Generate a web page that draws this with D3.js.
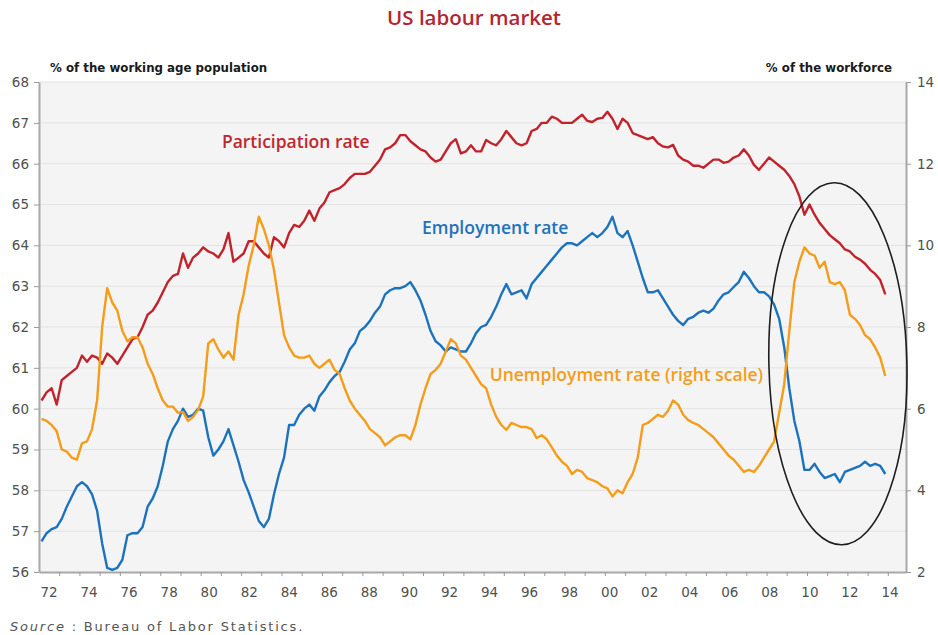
<!DOCTYPE html>
<html lang="en">
<head>
<meta charset="UTF-8">
<title>US labour market</title>
<style>
  body{ margin:0; background:#ffffff; }
  #canvas{ width:938px; height:635px; }
  .tick-label{ font-family:"DejaVu Sans", sans-serif; font-size:13.5px; fill:#505050; }
  .axis line{ stroke:#9a9a9a; }
  .axis path{ stroke:#a8a8a8; stroke-width:2; }
  .grid line{ stroke:#e3e3e3; stroke-width:1; }
  .series{ fill:none; stroke-width:2.4; stroke-linejoin:round; }
  .lbl{ font-family:"Open Sans", sans-serif; font-weight:600; font-size:17.5px; }
  .cap{ font-family:"DejaVu Sans", sans-serif; font-weight:700; font-size:11.8px; fill:#1a1a1a; }
</style>
<script src="https://cdn.jsdelivr.net/npm/d3@7/dist/d3.min.js"></script>
</head>
<body>
<div id="canvas"></div>
<script>
// quarterly readings, 1972 Q1 .. 2013 Q4 (one row per year)
var startYear = 1972;

var partRate = [
  60.2, 60.4, 60.5, 60.1,   60.7, 60.8, 60.9, 61.0,   61.3, 61.15, 61.3, 61.25,
  61.1, 61.35, 61.25, 61.1,  61.3, 61.5, 61.7, 61.75,  62.0, 62.3, 62.4, 62.6,
  62.85, 63.1, 63.25, 63.3,  63.8, 63.45, 63.7, 63.8,  63.95, 63.85, 63.8, 63.7,
  63.9, 64.3, 63.6, 63.7,    63.8, 64.1, 64.1, 63.95,  63.8, 63.7, 64.2, 64.1,
  63.95, 64.3, 64.5, 64.45,  64.6, 64.85, 64.6, 64.9,  65.05, 65.3, 65.35, 65.4,
  65.5, 65.65, 65.75, 65.75, 65.75, 65.8, 65.95, 66.1, 66.35, 66.4, 66.5, 66.7,
  66.7, 66.55, 66.45, 66.35, 66.3, 66.15, 66.05, 66.1, 66.3, 66.5, 66.6, 66.25,
  66.3, 66.45, 66.3, 66.3,  66.58, 66.5, 66.45, 66.6,  66.8, 66.65, 66.5, 66.45,
  66.5, 66.8, 66.85, 67.0,  67.0, 67.15, 67.1, 67.0,   67.0, 67.0, 67.1, 67.2,
  67.05, 67.02, 67.1, 67.12, 67.27, 67.1, 66.85, 67.1, 67.0, 66.75, 66.7, 66.65,
  66.6, 66.65, 66.5, 66.42,  66.4, 66.46, 66.2, 66.1,  66.05, 65.95, 65.95, 65.9,
  66.0, 66.1, 66.1, 66.02,   66.05, 66.15, 66.2, 66.35, 66.2, 65.97, 65.85, 66.0,
  66.15, 66.05, 65.95, 65.85, 65.7, 65.5, 65.2, 64.75, 65.0, 64.75, 64.55, 64.4,
  64.25, 64.15, 64.05, 63.9, 63.85, 63.72, 63.65, 63.55, 63.4, 63.3, 63.15, 62.8
];

var emplRate = [
  56.75, 56.95, 57.05, 57.1, 57.3, 57.6, 57.85, 58.1,  58.2, 58.1, 57.9, 57.5,
  56.7, 56.1, 56.05, 56.1,   56.3, 56.9, 56.95, 56.95, 57.1, 57.6, 57.8, 58.1,
  58.6, 59.2, 59.5, 59.7,    60.0, 59.8, 59.85, 60.0,  59.95, 59.3, 58.85, 59.0,
  59.2, 59.5, 59.1, 58.7,    58.25, 57.95, 57.6, 57.25, 57.1, 57.3, 57.9, 58.4,
  58.8, 59.6, 59.6, 59.85,   60.0, 60.1, 59.95, 60.3,  60.45, 60.65, 60.8, 60.9,
  61.15, 61.45, 61.6, 61.9,  62.0, 62.15, 62.35, 62.5, 62.8, 62.9, 62.95, 62.95,
  63.0, 63.1, 62.9, 62.65,   62.3, 61.9, 61.65, 61.55, 61.4, 61.5, 61.45, 61.4,
  61.4, 61.6, 61.85, 62.0,   62.05, 62.25, 62.5, 62.8, 63.05, 62.8, 62.85, 62.9,
  62.7, 63.05, 63.2, 63.35,  63.5, 63.65, 63.8, 63.95, 64.05, 64.05, 64.0, 64.1,
  64.2, 64.3, 64.2, 64.3,    64.45, 64.7, 64.3, 64.2,  64.35, 64.0, 63.6, 63.2,
  62.85, 62.85, 62.9, 62.7,  62.5, 62.3, 62.15, 62.05, 62.2, 62.25, 62.35, 62.4,
  62.35, 62.45, 62.65, 62.8, 62.85, 62.98, 63.1, 63.35, 63.2, 63.0, 62.85, 62.85,
  62.75, 62.55, 62.2, 61.5,  60.5, 59.7, 59.2, 58.5,   58.5, 58.65, 58.45, 58.3,
  58.35, 58.4, 58.2, 58.45,  58.5, 58.55, 58.6, 58.7,  58.6, 58.65, 58.6, 58.4
];

var unempRate = [
  5.75, 5.7, 5.6, 5.45,   5.0, 4.95, 4.8, 4.75,   5.15, 5.2, 5.5, 6.2,
  8.0, 8.95, 8.6, 8.4,    7.9, 7.65, 7.75, 7.75,  7.5, 7.1, 6.85, 6.5,
  6.2, 6.05, 6.05, 5.9,   5.92, 5.7, 5.8, 5.97,   6.3, 7.6, 7.7, 7.45,
  7.25, 7.4, 7.2, 8.3,    8.8, 9.5, 10.0, 10.7,   10.4, 10.0, 9.4, 8.6,
  7.8, 7.5, 7.3, 7.25,    7.25, 7.3, 7.1, 7.0,    7.1, 7.2, 6.95, 6.85,
  6.5, 6.2, 6.0, 5.85,    5.7, 5.5, 5.4, 5.3,     5.1, 5.2, 5.3, 5.35,
  5.35, 5.25, 5.6, 6.1,   6.5, 6.85, 6.95, 7.1,   7.4, 7.7, 7.6, 7.3,
  7.2, 7.0, 6.8, 6.6,     6.5, 6.1, 5.8, 5.6,     5.48, 5.65, 5.6, 5.55,
  5.55, 5.5, 5.28, 5.35,  5.25, 5.05, 4.85, 4.7,  4.6, 4.4, 4.5, 4.45,
  4.3, 4.25, 4.2, 4.1,    4.05, 3.85, 4.0, 3.93,  4.2, 4.4, 4.8, 5.6,
  5.65, 5.75, 5.85, 5.8,  5.95, 6.2, 6.1, 5.85,   5.72, 5.65, 5.6, 5.5,
  5.4, 5.3, 5.15, 5.0,    4.85, 4.75, 4.6, 4.45,  4.5, 4.45, 4.6, 4.8,
  5.0, 5.2, 5.9, 6.6,     7.9, 9.1, 9.6, 9.95,    9.8, 9.75, 9.45, 9.6,
  9.1, 9.05, 9.1, 8.9,    8.3, 8.2, 8.05, 7.8,    7.7, 7.5, 7.25, 6.8
];

var yearLabels = ["72","74","76","78","80","82","84","86","88","90","92",
                  "94","96","98","00","02","04","06","08","10","12","14"];
var leftTicks = [56,57,58,59,60,61,62,63,64,65,66,67,68];
var rightTicks = [2,4,6,8,10,12,14];

// layout
var outerWidth = 938, outerHeight = 635;
var margin = {top: 82, right: 32, bottom: 63, left: 39};
var innerWidth = outerWidth - margin.left - margin.right;
var innerHeight = outerHeight - margin.top - margin.bottom;

var quarters = d3.range(partRate.length).map(function(i){ return startYear + i / 4 + 0.125; });

function toPoints(values){
  return values.map(function(v, i){ return {t: quarters[i], v: v}; });
}

//scale
var x = d3.scaleLinear().domain([1972, 2014.9]).range([0, innerWidth]);
var xLab = d3.scaleLinear().domain([1972, 2014]).range([10, 851]);
var yL = d3.scaleLinear().domain([56, 68]).range([innerHeight, 0]);
var yR = d3.scaleLinear().domain([2, 14]).range([innerHeight, 0]);

var svg = d3.select("#canvas").append("svg")
  .attr("width", outerWidth)
  .attr("height", outerHeight);

// title and axis captions
svg.append("text")
  .attr("x", 474).attr("y", 25)
  .attr("text-anchor", "middle")
  .style("font-family", "'Open Sans', sans-serif")
  .style("font-weight", 600)
  .style("font-size", "20.5px")
  .style("fill", "#b3262f")
  .text("US labour market");

svg.append("text").attr("class", "cap")
  .attr("x", 50).attr("y", 72)
  .text("% of the working age population");

svg.append("text").attr("class", "cap")
  .attr("x", 892).attr("y", 72)
  .attr("text-anchor", "end")
  .text("% of the workforce");

var src = svg.append("text")
  .attr("x", 10).attr("y", 631)
  .style("font-family", "'DejaVu Sans', sans-serif")
  .style("font-size", "13px")
  .style("letter-spacing", "1.8px")
  .style("fill", "#555");
src.append("tspan").style("font-style", "italic").text("Source");
src.append("tspan").text(" : Bureau of Labor Statistics.");

var g = svg.append("g")
  .attr("transform", "translate(" + margin.left + "," + margin.top + ")");

g.append("rect")
  .attr("width", innerWidth)
  .attr("height", innerHeight)
  .style("fill", "#f4f4f4");

g.append("g").attr("class", "grid")
  .selectAll("line")
  .data(leftTicks.slice(1))
  .enter().append("line")
  .attr("x1", 0).attr("x2", innerWidth)
  .attr("y1", function(d){ return yL(d); })
  .attr("y2", function(d){ return yL(d); });

g.append("clipPath").attr("id", "plotclip")
  .append("rect").attr("width", innerWidth).attr("height", innerHeight);

//axis (tick marks from d3 axes, labels placed in page coordinates)
g.append("g").attr("class", "axis")
  .call(d3.axisLeft(yL).tickValues(leftTicks).tickSize(5).tickSizeOuter(0).tickFormat(""))
  .selectAll("text").remove();

g.append("g").attr("class", "axis")
  .attr("transform", "translate(" + innerWidth + ",0)")
  .call(d3.axisRight(yR).tickValues(rightTicks).tickSize(5).tickSizeOuter(0).tickFormat(""))
  .selectAll("text").remove();

g.append("g").attr("class", "axis")
  .attr("transform", "translate(0," + innerHeight + ")")
  .call(d3.axisBottom(x).tickValues(d3.range(1973, 2015)).tickSize(4).tickSizeOuter(0).tickFormat(""))
  .selectAll("text").remove();

svg.append("g").selectAll("text")
  .data(leftTicks)
  .enter().append("text")
  .attr("class", "tick-label")
  .attr("x", margin.left - 10)
  .attr("y", function(d){ return margin.top + yL(d); })
  .attr("dy", "0.36em")
  .attr("text-anchor", "end")
  .text(function(d){ return d; });

svg.append("g").selectAll("text")
  .data(rightTicks)
  .enter().append("text")
  .attr("class", "tick-label")
  .attr("x", margin.left + innerWidth + 11)
  .attr("y", function(d){ return margin.top + yR(d); })
  .attr("dy", "0.36em")
  .text(function(d){ return d; });

svg.append("g").selectAll("text")
  .data(yearLabels)
  .enter().append("text")
  .attr("class", "tick-label")
  .attr("x", function(d, i){ return margin.left + xLab(1972 + i * 2); })
  .attr("y", margin.top + innerHeight + 25)
  .attr("text-anchor", "middle")
  .text(function(d){ return d; });

//lines
var line = d3.line()
  .x(function(d){ return x(d.t); })
  .y(function(d){ return d.y; });

var plot = g.append("g").attr("clip-path", "url(#plotclip)");

plot.append("path").attr("class", "series")
  .datum(toPoints(emplRate).map(function(d){ return {t: d.t, y: yL(d.v)}; }))
  .attr("d", line)
  .style("stroke", "#1c73bd");

plot.append("path").attr("class", "series")
  .datum(toPoints(partRate).map(function(d){ return {t: d.t, y: yL(d.v)}; }))
  .attr("d", line)
  .style("stroke", "#c1232c");

plot.append("path").attr("class", "series")
  .datum(toPoints(unempRate).map(function(d){ return {t: d.t, y: yR(d.v)}; }))
  .attr("d", line)
  .style("stroke", "#f59d1a");

// series labels
g.append("text").attr("class", "lbl")
  .attr("x", x(1981.05)).attr("y", yL(66.38))
  .style("fill", "#c0262f").text("Participation rate");
g.append("text").attr("class", "lbl")
  .attr("x", x(1990.95)).attr("y", yL(64.28))
  .style("fill", "#1c73bd").text("Employment rate");
g.append("text").attr("class", "lbl")
  .attr("x", x(1994.3)).attr("y", yR(6.68))
  .style("fill", "#f59d1a").text("Unemployment rate (right scale)");

// highlight round the last years
g.append("ellipse")
  .attr("cx", x(2011.53)).attr("cy", yL(61.1))
  .attr("rx", 69).attr("ry", 181)
  .attr("transform", "rotate(-1.3," + x(2011.53) + "," + yL(61.1) + ")")
  .style("fill", "none")
  .style("stroke", "#1e1e1e")
  .style("stroke-width", 1.6);
</script>
</body>
</html>
